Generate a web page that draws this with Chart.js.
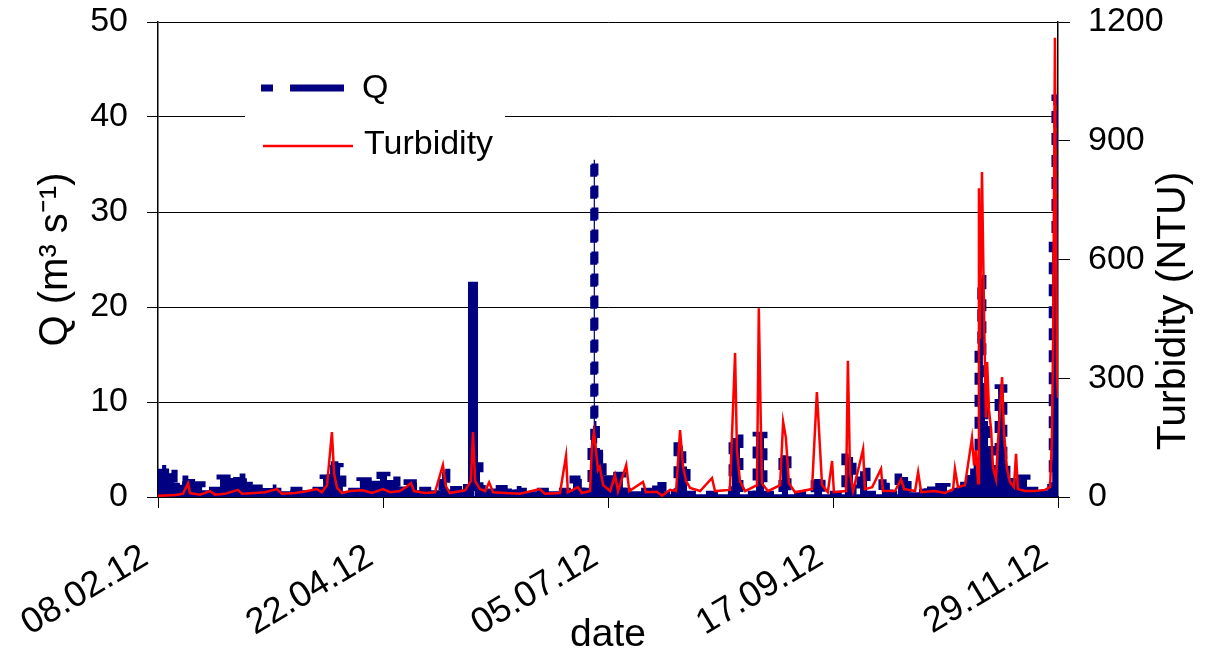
<!DOCTYPE html>
<html>
<head>
<meta charset="utf-8">
<script src="https://cdn.jsdelivr.net/npm/chart.js@4.4.1/dist/chart.umd.min.js"></script>
<style>
  html, body { margin: 0; padding: 0; background: #fff; }
  #wrap { width: 1209px; height: 656px; position: relative; }
</style>
</head>
<body>
<div id="wrap"><canvas id="qChart"></canvas></div>
<script>
// x values are days counted from 08.02.12
const xTickLabels = ["08.02.12", "22.04.12", "05.07.12", "17.09.12", "29.11.12"];

// discharge Q (m3/s)
const qDays = [0, 2.5, 2.9, 5.3, 7.2, 9.2, 12.2, 14.5, 20.4, 24.7,
  27.6, 31.2, 37.8, 43.4, 54.3, 56.6, 58.2, 59.9, 60.8, 66.4,
  73.0, 75.3, 78.6, 81.9, 85.2, 93.4, 95.0, 100.3, 103.1, 104.1,
  105.9, 116.4, 118.4, 136.5, 139.4, 142.4, 143.3, 143.7, 144.2, 146.4,
  152.9, 162.5, 166.1, 168.4, 170.7, 172.6, 174.0, 188.8, 191.4, 196.7,
  199.3, 205.2, 207.2, 215.8, 218.4, 225.9, 228.6, 230.9, 233.2, 238.1,
  240.7, 243.4, 246.7, 252.9, 259.5, 263.8, 267.1, 269.7, 270.6, 271.3,
  272.0, 273.0, 274.5, 276.3, 278.2, 279.2, 285.8, 293.6, 294.1, 295.0,
  295.6, 296.0];
const qValues = [2.6, 3.0, 2.5, 1.5, 1.3, 1.9, 1.3, 0.7, 2.0, 2.1,
  1.6, 0.95, 0.6, 0.7, 2.0, 3.4, 3.2, 1.9, 0.6, 1.7,
  2.3, 1.8, 1.1, 1.5, 0.7, 2.6, 0.8, 1.0, 22.3, 3.3,
  0.9, 0.8, 0.6, 1.9, 0.6, 6.0, 35.5, 8.0, 4.6, 2.3,
  0.6, 1.2, 0.6, 0.3, 5.4, 3.2, 0.3, 6.2, 0.3, 6.5,
  0.3, 4.4, 0.3, 1.9, 0.3, 4.2, 0.3, 2.7, 0.3, 1.5,
  0.3, 2.1, 0.5, 1.1, 0.6, 1.6, 3.0, 16.0, 23.0, 12.0,
  8.0, 5.0, 3.0, 11.5, 4.0, 2.0, 0.7, 1.0, 26.5, 42.0,
  30.0, 20.0];

// turbidity (NTU)
const turbDays = [0, 2.3, 5.6, 8.2, 9.9, 10.5, 13.8, 17.1, 18.7, 22.0,
  26.3, 27.6, 31.9, 35.2, 39.1, 40.8, 45.1, 48.3, 52.3, 53.9,
  55.6, 57.2, 57.9, 58.9, 60.5, 63.1, 67.4, 70.4, 74.0, 76.3,
  79.6, 81.6, 83.2, 84.2, 87.8, 91.1, 93.7, 94.7, 96.0, 101.0,
  102.9, 103.6, 104.3, 105.9, 107.6, 108.9, 110.2, 114.1, 119.1, 125.6,
  127.3, 132.2, 134.2, 134.8, 138.1, 139.4, 142.1, 142.7, 143.4, 144.0,
  144.7, 145.3, 146.4, 148.7, 150.3, 151.3, 154.0, 155.0, 159.5, 160.5,
  164.1, 165.8, 168.4, 170.4, 171.7, 172.7, 173.7, 175.0, 178.3, 182.2,
  183.2, 188.1, 189.8, 190.4, 191.4, 193.1, 197.0, 197.6, 198.6, 200.6,
  204.6, 205.6, 206.5, 207.5, 209.5, 215.1, 216.7, 217.4, 218.4, 220.3,
  221.7, 222.3, 226.3, 226.9, 227.6, 228.6, 231.9, 232.5, 234.9, 237.8,
  238.4, 242.4, 244.4, 245.4, 249.0, 250.0, 251.0, 255.5, 258.8, 261.5,
  262.1, 263.1, 265.4, 267.7, 268.4, 269.0, 269.7, 270.0, 270.3, 271.0,
  271.7, 272.3, 272.7, 273.3, 274.0, 274.6, 275.6, 276.3, 277.6, 278.2,
  279.2, 280.2, 281.5, 282.2, 282.8, 285.1, 288.4, 291.7, 293.4, 294.0,
  294.4, 295.0, 295.3, 295.7, 296.0];
const turbValues = [3, 4, 5, 8, 35, 10, 6, 15, 6, 8,
  18, 8, 10, 12, 20, 8, 10, 14, 20, 12,
  30, 164, 60, 23, 10, 15, 17, 10, 20, 12,
  15, 25, 35, 15, 10, 12, 81, 27, 10, 17,
  40, 164, 40, 20, 15, 37, 12, 10, 8, 20,
  8, 10, 104, 12, 25, 10, 15, 126, 164, 120,
  68, 76, 30, 15, 55, 15, 81, 15, 38, 12,
  13, 3, 18, 15, 169, 76, 40, 23, 15, 48,
  15, 18, 364, 119, 40, 15, 30, 477, 35, 15,
  30, 190, 150, 35, 12, 20, 265, 169, 30, 12,
  91, 12, 15, 344, 60, 15, 121, 20, 25, 71,
  15, 15, 45, 20, 15, 63, 12, 15, 10, 20,
  71, 25, 30, 149, 80, 119, 35, 780, 400, 821,
  450, 200, 341, 220, 170, 75, 45, 144, 303, 168,
  73, 38, 25, 109, 20, 15, 15, 18, 25, 150,
  400, 1160, 700, 300, 250];

const toPoints = (days, vals) => days.map((d, i) => ({ x: d, y: vals[i] }));

// a high flow held for about a day or more shows up as a solid bar
const heldHigh = (i) => qValues[i] > 15 && i < qDays.length - 1 && qDays[i + 1] - qDays[i] >= 0.95;

const FONT = "'Liberation Sans', Arial, sans-serif";
Chart.defaults.font.family = FONT;
Chart.defaults.color = "#000";

// legend box drawn inside the plot, like the original
const innerLegend = {
  id: "innerLegend",
  afterDraw(chart) {
    const ctx = chart.ctx;
    const ds = chart.data.datasets;
    ctx.save();
    ctx.fillStyle = "#fff";
    ctx.fillRect(245, 62, 260, 108);
    ctx.strokeStyle = ds[0].borderColor;
    ctx.lineWidth = 7;
    ctx.setLineDash([12, 17, 54, 12]);
    ctx.beginPath();
    ctx.moveTo(261, 88);
    ctx.lineTo(355, 88);
    ctx.stroke();
    ctx.setLineDash([]);
    ctx.strokeStyle = ds[1].borderColor;
    ctx.lineWidth = 2.5;
    ctx.beginPath();
    ctx.moveTo(263, 146);
    ctx.lineTo(353, 146);
    ctx.stroke();
    ctx.fillStyle = "#000";
    ctx.font = "34px " + FONT;
    ctx.textBaseline = "alphabetic";
    ctx.fillText(ds[0].label, 362, 98);
    ctx.fillText(ds[1].label, 364, 154);
    ctx.restore();
  }
};

// right axis title reads bottom-to-top in the original
const rightTitle = {
  id: "rightTitle",
  afterDraw(chart) {
    const ctx = chart.ctx;
    ctx.save();
    ctx.translate(1174, 311);
    ctx.rotate(-Math.PI / 2);
    ctx.textAlign = "center";
    ctx.textBaseline = "middle";
    ctx.fillStyle = "#000";
    ctx.font = "41px " + FONT;
    ctx.fillText(chart.options.scales.y1.title.text, 0, 0);
    ctx.restore();
  }
};

// fixed box sizes so the plot area sits where the original has it
const fixWidth = (w) => (s) => {
  s.width = w;
  s.paddingTop = 0;
  s.paddingBottom = 0;
};

new Chart(document.getElementById("qChart"), {
  type: "line",
  data: {
    datasets: [
      {
        label: "Q",
        data: toPoints(qDays, qValues),
        yAxisID: "y",
        borderColor: "#000080",
        backgroundColor: "#000080",
        borderWidth: 7,
        borderDash: [12, 10],
        stepped: true,
        fill: "origin",
        pointRadius: 0,
        order: 1,
        segment: {
          borderDash: (c) => (heldHigh(c.p0DataIndex) || heldHigh(c.p1DataIndex) ? [] : undefined)
        }
      },
      {
        label: "Turbidity",
        data: toPoints(turbDays, turbValues),
        yAxisID: "y1",
        borderColor: "#ff0000",
        borderWidth: 2.5,
        fill: false,
        pointRadius: 0,
        order: 0
      }
    ]
  },
  options: {
    responsive: true,
    maintainAspectRatio: false,
    animation: false,
    layout: { padding: { top: 22, left: 0, right: 0, bottom: 0 } },
    plugins: {
      legend: { display: false },
      tooltip: { enabled: false }
    },
    scales: {
      x: {
        type: "linear",
        min: 0,
        max: 296,
        ticks: {
          stepSize: 74,
          autoSkip: false,
          minRotation: 31,
          maxRotation: 31,
          padding: 28,
          labelOffset: -13,
          font: { size: 36 },
          callback: (v, i) => xTickLabels[i]
        },
        grid: { drawOnChartArea: false, tickLength: 11, color: "#000" },
        border: { color: "#000", width: 1.5 },
        title: { display: true, text: "date", font: { size: 39 }, padding: { top: 0, bottom: -3 } },
        afterFit: (s) => {
          s.height = 159;
          s.paddingLeft = 0;
          s.paddingRight = 0;
        }
      },
      y: {
        position: "left",
        min: 0,
        max: 50,
        ticks: { stepSize: 10, padding: 19, font: { size: 34 } },
        grid: { color: "#000", lineWidth: 1, tickLength: 11 },
        border: { color: "#000", width: 1.5 },
        title: { display: true, text: "Q (m³ s⁻¹)", font: { size: 40 }, padding: { top: 32 } },
        afterFit: fixWidth(158)
      },
      y1: {
        position: "right",
        min: 0,
        max: 1200,
        ticks: { stepSize: 300, padding: 18, font: { size: 34 }, callback: (v) => String(v) },
        grid: { drawOnChartArea: false, tickLength: 12, color: "#000" },
        border: { color: "#000", width: 1.5 },
        title: { display: false, text: "Turbidity (NTU)" },
        afterFit: fixWidth(151)
      }
    }
  },
  plugins: [innerLegend, rightTitle]
});
</script>
</body>
</html>
